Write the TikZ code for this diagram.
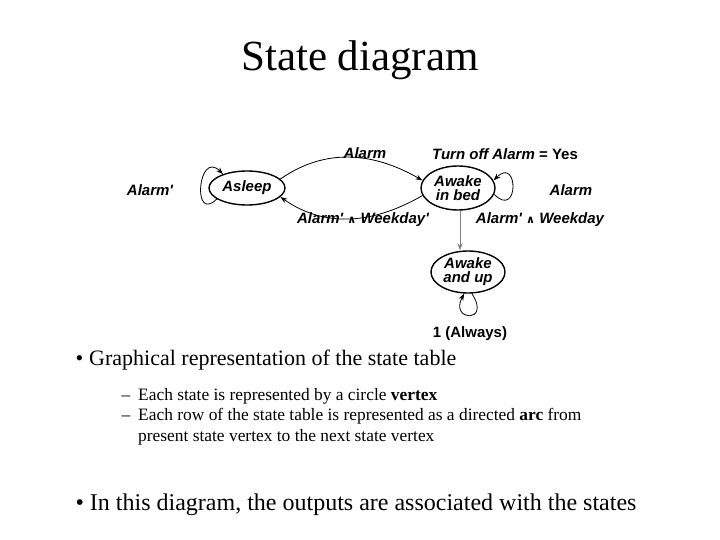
\documentclass[tikz,border=0pt]{standalone}
\usepackage{fontspec}
\setmainfont{Liberation Serif}
\newfontfamily\dgfont{Liberation Sans}
\newfontfamily\djfont{DejaVu Sans}
\usetikzlibrary{shapes.geometric,arrows.meta}
\begin{document}
\begin{tikzpicture}[x=1pt,y=-1pt,
  st/.style={draw,line width=1.4pt,ellipse,minimum width=76pt,align=center,font=\dgfont\bfseries\itshape\fontsize{15}{14}\selectfont,inner sep=0pt},
  lb/.style={font=\dgfont\bfseries\itshape\fontsize{15}{15}\selectfont},
  ar/.style={-{Stealth[length=7pt,width=5pt]},thick},
  bt/.style={font=\fontsize{22}{24}\selectfont,anchor=west},
  sb/.style={font=\fontsize{17.4}{21}\selectfont,anchor=west,align=left}]
\useasboundingbox (0,0) rectangle (720,540);
\node[font=\fontsize{43}{46}\selectfont] (title) at (360,60) {State diagram};
\node[st,minimum height=34pt] (as) at (247,188) {Asleep};
\node[st,minimum height=44pt,minimum width=74pt] (ab) at (458,188) {Awake\\in bed};
\node[st,minimum height=42pt,minimum width=74pt] (au) at (468,272) {Awake\\and up};
\draw[ar] (as.15) to[out=35,in=150] (ab.168);
\draw[ar] (ab.192) to[out=-150,in=-35] (as.-15);
\draw[ar,gray] (ab.-85) -- (au.north-|ab.-85);
\draw[ar] (as.200) .. controls +(-25,25) and +(-25,-25) .. (as.150);
\draw[ar] (ab.-10) .. controls +(25,25) and +(25,-25) .. (ab.12);
\draw[ar] (au.-80) .. controls +(20,30) and +(-15,28) .. (au.-100);
\node[lb] (l1) at (365,153) {Alarm};
\node[lb] (l2) at (505,154) {Turn off Alarm {\upshape=} {\upshape Yes}};
\node[lb] (l3) at (150,190) {Alarm'};
\node[lb] (l4) at (571,190) {Alarm};
\node[lb] (l5) at (363,220) {Alarm' {\djfont\upshape\fontsize{11}{11}\selectfont∧} Weekday'};
\node[lb] (l6) at (540,220) {Alarm' {\djfont\upshape\fontsize{11}{11}\selectfont∧} Weekday};
\node[lb,font=\dgfont\bfseries\fontsize{15}{15}\selectfont] (l7) at (470,334) {1 (Always)};
\node[bt] (b1) at (72,360) {•\hspace{6pt}Graphical representation of the state table};
\node[sb] (s1) at (118,396) {–\hspace{8pt}Each state is represented by a circle \textbf{vertex}};
\node[sb] (s2) at (118,427) {–\hspace{8pt}\parbox[t]{500pt}{Each row of the state table is represented as a directed \textbf{arc} from\\present state vertex to the next state vertex}};
\node[bt,font=\fontsize{24}{26}\selectfont] (b2) at (72,505) {•\hspace{6pt}In this diagram, the outputs are associated with the states};
\end{tikzpicture}
\end{document}
